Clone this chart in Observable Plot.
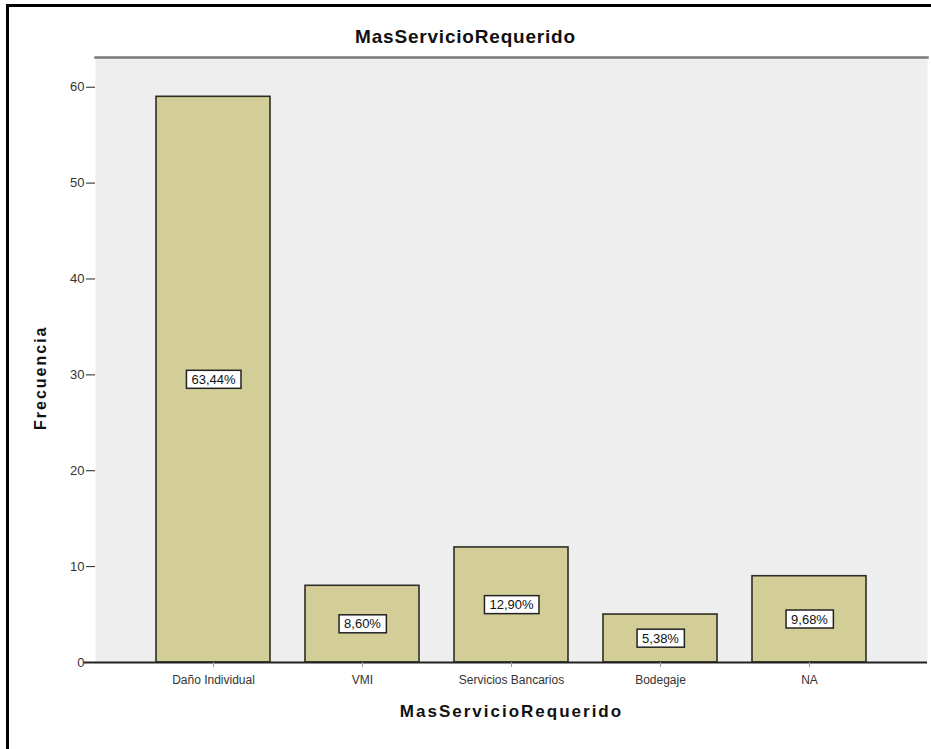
<!DOCTYPE html>
<html>
<head>
<meta charset="utf-8">
<script src="https://cdn.jsdelivr.net/npm/d3@7"></script>
<script src="https://cdn.jsdelivr.net/npm/@observablehq/plot@0.6"></script>
<style>
  html, body { margin: 0; padding: 0; background: #fff; overflow: hidden; width: 931px; height: 749px; }
  #frame { position: absolute; left: 6px; top: 4px; width: 2000px; height: 2000px;
           border-left: 3px solid #000; border-top: 3px solid #000; pointer-events: none; }
  #title { height: 48px; width: 931px; box-sizing: border-box; padding-top: 26px; text-align: center;
           font-family: "Liberation Sans", Arial, sans-serif; font-weight: bold; font-size: 19px;
           letter-spacing: 0.8px; line-height: 21px; color: #111; }
  #chart { position: relative; }
  .axtitle text { letter-spacing: 2px; }
</style>
</head>
<body>
<div id="frame"></div>
<div id="title">MasServicioRequerido</div>
<div id="chart"></div>
<script>
const categories = ["Daño Individual", "VMI", "Servicios Bancarios", "Bodegaje", "NA"];
const counts = [59, 8, 12, 5, 9];
const percentLabels = ["63,44%", "8,60%", "12,90%", "5,38%", "9,68%"];
const yTicks = [0, 10, 20, 30, 40, 50, 60];
const xTitle = "MasServicioRequerido";
const yTitle = "Frecuencia";

const data = categories.map((c, i) => ({cat: c, n: counts[i], pct: percentLabels[i]}));

const chart = Plot.plot({
  width: 931,
  height: 701,
  marginLeft: 95,
  marginRight: 4,
  marginTop: 9,
  marginBottom: 87,
  style: {fontFamily: "'Liberation Sans', Arial, sans-serif", fontSize: "12px", color: "#333", background: "transparent"},
  x: {type: "band", domain: categories, paddingInner: 0.233, paddingOuter: 0.39},
  y: {domain: [0, 63.1]},
  marks: [
    Plot.frame({fill: "#EEEEEE", stroke: null}),
    Plot.frame({anchor: "top", stroke: "#7a7a7a", strokeWidth: 2.5}),
    Plot.barY(data, {x: "cat", y: "n", fill: "#D3CE97", stroke: "#2e2e26", strokeWidth: 1.6}),
    Plot.ruleY([0], {stroke: "#222", strokeWidth: 2, insetLeft: -11}),
    Plot.axisY({ticks: yTicks, tickSize: 9, tickPadding: 2, fontSize: 13, label: null, tickFormat: d => String(d), stroke: "#222", fill: "#333"}),
    Plot.axisX({tickSize: 5, tickPadding: 8, fontSize: 12, label: null, stroke: "#999", fill: "#333"}),
    Plot.text(data, {x: "cat", y: d => d.n / 2, text: "pct", fontSize: 13, fill: "#111", className: "pct"}),
    Plot.text([xTitle], {frameAnchor: "bottom", dy: 54, fontWeight: "bold", fontSize: 17, fill: "#111", className: "axtitle"}),
    Plot.text([yTitle], {frameAnchor: "left", dx: -55, dy: 70, rotate: -90, fontWeight: "bold", fontSize: 16, fill: "#111", className: "axtitle"})
  ]
});
document.getElementById("chart").appendChild(chart);

// white label boxes behind percentage texts
chart.querySelectorAll("g.pct text").forEach(t => {
  const b = t.getBBox();
  const r = document.createElementNS("http://www.w3.org/2000/svg", "rect");
  r.setAttribute("x", b.x - 5);
  r.setAttribute("y", b.y - 1.5);
  r.setAttribute("width", b.width + 10);
  r.setAttribute("height", b.height + 3);
  r.setAttribute("fill", "#fff");
  r.setAttribute("stroke", "#222");
  r.setAttribute("stroke-width", 1.5);
  if (t.getAttribute("transform")) r.setAttribute("transform", t.getAttribute("transform"));
  t.parentNode.insertBefore(r, t);
});
</script>
</body>
</html>
